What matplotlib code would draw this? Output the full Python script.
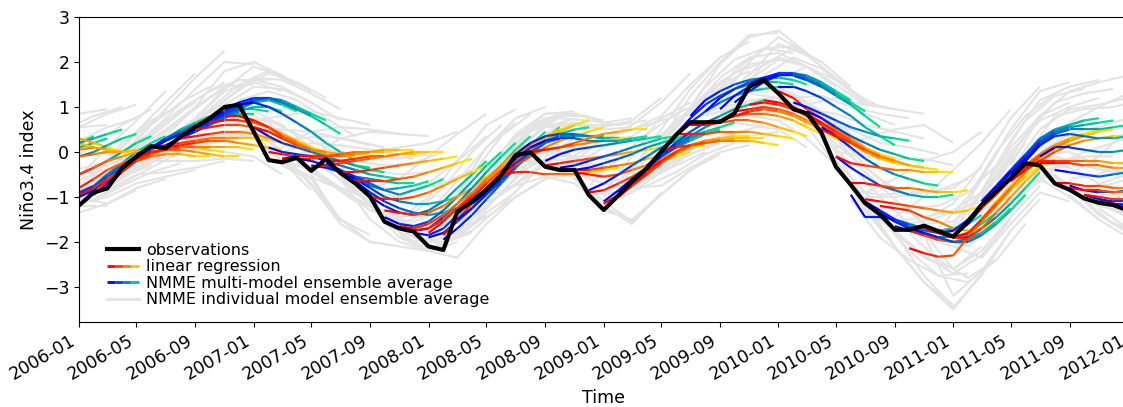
import matplotlib

matplotlib.use("Agg")
import matplotlib.dates as mdates  # noqa: E402
import matplotlib.pyplot as plt  # noqa: E402
import pandas as pd  # noqa: E402
from matplotlib.collections import LineCollection  # noqa: E402
from matplotlib.legend_handler import HandlerBase  # noqa: E402
from matplotlib.lines import Line2D  # noqa: E402

plt.rcParams["font.family"] = "DejaVu Sans"
plt.rcParams["font.size"] = 12.5

# observed Niño3.4 index, monthly from 2006-01
obs_start = "2006-01"
obs = [-1.19, -0.90, -0.81, -0.36, -0.10, 0.13, 0.08, 0.34, 0.56, 0.75, 1.00, 1.05,
       0.45, -0.18, -0.23, -0.13, -0.42, -0.16, -0.47, -0.70, -0.99, -1.55, -1.70, -1.77,
       -2.10, -2.18, -1.33, -1.10, -0.84, -0.51, -0.07, -0.01, -0.33, -0.40, -0.40, -0.96,
       -1.29, -0.96, -0.66, -0.36, 0.01, 0.38, 0.66, 0.66, 0.67, 0.86, 1.45, 1.60,
       1.30, 0.95, 0.86, 0.42, -0.33, -0.73, -1.14, -1.39, -1.73, -1.73, -1.64, -1.76,
       -1.88, -1.55, -1.18, -0.88, -0.59, -0.25, -0.30, -0.70, -0.84, -1.03, -1.13, -1.18,
       -1.30]

# one row per initial month (monthly from 2005-05), leads 0..8
fcst_first_init = "2005-05"
mme_fcst = [
    [0.35, 0.3, 0.3, 0.25, 0.25, 0.2, 0.2, 0.25, 0.3],
    [0.25, 0.2, 0.2, 0.15, 0.1, 0.1, 0.15, 0.2, 0.35],
    [0.1, 0.05, 0.0, 0.0, 0.0, 0.05, 0.1, 0.2, 0.3],
    [0.0, -0.05, -0.05, 0.0, 0.05, 0.2, 0.3, 0.4, 0.5],
    [-0.1, -0.2, -0.25, -0.2, -0.1, 0.0, 0.15, 0.3, 0.4],
    [-0.3, -0.45, -0.55, -0.5, -0.35, -0.2, 0.0, 0.2, 0.35],
    [-0.6, -0.8, -0.9, -0.75, -0.5, -0.25, 0.0, 0.2, 0.35],
    [-0.85, -0.95, -0.8, -0.55, -0.3, -0.1, 0.1, 0.25, 0.4],
    [-1.0, -0.85, -0.6, -0.35, -0.1, 0.1, 0.3, 0.45, 0.6],
    [-0.95, -0.7, -0.4, -0.15, 0.1, 0.3, 0.5, 0.65, 0.8],
    [-0.7, -0.4, -0.15, 0.05, 0.25, 0.45, 0.6, 0.75, 0.85],
    [-0.3, -0.1, 0.1, 0.3, 0.45, 0.6, 0.75, 0.85, 0.9],
    [-0.05, 0.1, 0.25, 0.4, 0.55, 0.7, 0.8, 0.85, 0.85],
    [0.1, 0.25, 0.4, 0.55, 0.7, 0.85, 0.95, 0.95, 0.9],
    [0.15, 0.3, 0.45, 0.6, 0.75, 0.9, 1.0, 1.0, 0.9],
    [0.35, 0.5, 0.65, 0.8, 0.95, 1.1, 1.15, 1.05, 0.9],
    [0.55, 0.7, 0.85, 1.0, 1.15, 1.2, 1.1, 0.95, 0.8],
    [0.75, 0.9, 1.05, 1.15, 1.2, 1.15, 1.0, 0.85, 0.7],
    [0.95, 1.1, 1.2, 1.2, 1.1, 0.95, 0.8, 0.6, 0.4],
    [1.05, 1.1, 1.0, 0.85, 0.65, 0.45, 0.2, 0.0, -0.2],
    [0.55, 0.35, 0.2, 0.1, 0.0, -0.1, -0.2, -0.3, -0.35],
    [0.1, 0.0, -0.05, -0.1, -0.15, -0.2, -0.3, -0.4, -0.45],
    [-0.15, -0.1, -0.1, -0.2, -0.3, -0.4, -0.5, -0.55, -0.6],
    [-0.15, -0.2, -0.3, -0.45, -0.55, -0.6, -0.65, -0.7, -0.7],
    [-0.3, -0.35, -0.45, -0.6, -0.75, -0.85, -0.8, -0.75, -0.65],
    [-0.25, -0.4, -0.55, -0.7, -0.85, -0.95, -0.85, -0.75, -0.6],
    [-0.45, -0.6, -0.8, -1.0, -1.1, -1.15, -1.15, -1.1, -1.0],
    [-0.65, -0.9, -1.1, -1.25, -1.35, -1.4, -1.35, -1.25, -1.1],
    [-1.0, -1.2, -1.35, -1.4, -1.3, -1.1, -0.8, -0.5, -0.2],
    [-1.45, -1.6, -1.65, -1.55, -1.3, -1.0, -0.65, -0.3, 0.0],
    [-1.7, -1.75, -1.7, -1.45, -1.15, -0.8, -0.45, -0.1, 0.2],
    [-1.8, -1.85, -1.7, -1.4, -1.05, -0.7, -0.3, 0.05, 0.35],
    [-1.9, -1.8, -1.55, -1.25, -0.9, -0.55, -0.2, 0.15, 0.45],
    [-1.95, -1.7, -1.4, -1.05, -0.7, -0.35, 0.0, 0.3, 0.55],
    [-1.5, -1.25, -0.95, -0.65, -0.35, -0.05, 0.2, 0.45, 0.6],
    [-1.15, -0.9, -0.6, -0.3, 0.0, 0.25, 0.4, 0.5, 0.55],
    [-0.8, -0.55, -0.25, 0.0, 0.2, 0.3, 0.35, 0.35, 0.35],
    [-0.45, -0.15, 0.1, 0.25, 0.35, 0.35, 0.35, 0.3, 0.3],
    [-0.05, 0.2, 0.35, 0.4, 0.4, 0.35, 0.3, 0.3, 0.3],
    [0.1, 0.25, 0.3, 0.3, 0.25, 0.25, 0.25, 0.3, 0.35],
    [-0.2, -0.05, 0.05, 0.1, 0.15, 0.2, 0.25, 0.3, 0.35],
    [-0.35, -0.3, -0.2, -0.1, 0.0, 0.1, 0.2, 0.3, 0.35],
    [-0.4, -0.35, -0.25, -0.15, -0.05, 0.1, 0.2, 0.3, 0.4],
    [-0.85, -0.7, -0.5, -0.3, -0.1, 0.1, 0.25, 0.35, 0.45],
    [-1.1, -0.85, -0.6, -0.35, -0.1, 0.1, 0.25, 0.4, 0.5],
    [-0.9, -0.6, -0.35, -0.1, 0.1, 0.3, 0.45, 0.55, 0.65],
    [-0.6, -0.35, -0.1, 0.15, 0.35, 0.55, 0.7, 0.8, 0.9],
    [-0.3, -0.05, 0.2, 0.45, 0.65, 0.8, 0.95, 1.05, 1.15],
    [0.05, 0.35, 0.65, 0.9, 1.1, 1.25, 1.35, 1.4, 1.45],
    [0.4, 0.75, 1.05, 1.25, 1.4, 1.5, 1.55, 1.55, 1.5],
    [0.8, 1.15, 1.35, 1.5, 1.6, 1.65, 1.65, 1.6, 1.5],
    [0.9, 1.2, 1.4, 1.55, 1.65, 1.7, 1.7, 1.6, 1.45],
    [0.95, 1.25, 1.45, 1.6, 1.7, 1.7, 1.6, 1.45, 1.3],
    [1.1, 1.35, 1.55, 1.7, 1.75, 1.7, 1.55, 1.35, 1.15],
    [1.5, 1.65, 1.75, 1.75, 1.65, 1.5, 1.3, 1.1, 0.9],
    [1.6, 1.7, 1.7, 1.6, 1.45, 1.25, 1.05, 0.8, 0.55],
    [1.45, 1.45, 1.35, 1.2, 1.0, 0.8, 0.55, 0.35, 0.15],
    [1.1, 1.0, 0.85, 0.7, 0.55, 0.45, 0.35, 0.3, 0.25],
    [0.9, 0.75, 0.55, 0.35, 0.2, 0.05, -0.05, -0.15, -0.2],
    [0.55, 0.35, 0.1, -0.15, -0.35, -0.5, -0.6, -0.7, -0.75],
    [-0.1, -0.35, -0.55, -0.75, -0.85, -0.95, -1.0, -1.0, -0.95],
    [-0.95, -1.45, -1.45, -1.5, -1.6, -1.7, -1.75, -1.7, -1.6],
    [-1.1, -1.3, -1.5, -1.65, -1.75, -1.8, -1.75, -1.6, -1.4],
    [-1.35, -1.55, -1.7, -1.8, -1.9, -1.9, -1.8, -1.6, -1.35],
    [-1.65, -1.75, -1.85, -1.95, -2.0, -1.95, -1.8, -1.55, -1.25],
    [-1.7, -1.8, -1.9, -2.0, -2.0, -1.85, -1.6, -1.3, -0.95],
    [-1.7, -1.8, -1.9, -1.9, -1.7, -1.45, -1.15, -0.8, -0.45],
    [-1.8, -1.75, -1.5, -1.2, -0.85, -0.5, -0.15, 0.15, 0.4],
    [-1.85, -1.6, -1.25, -0.9, -0.55, -0.2, 0.15, 0.4, 0.6],
    [-1.5, -1.15, -0.8, -0.45, -0.1, 0.25, 0.45, 0.6, 0.7],
    [-1.1, -0.75, -0.4, -0.05, 0.3, 0.5, 0.6, 0.7, 0.75],
    [-0.8, -0.45, -0.1, 0.25, 0.45, 0.55, 0.6, 0.65, 0.7],
    [-0.5, -0.15, 0.2, 0.4, 0.5, 0.5, 0.5, 0.55, 0.6],
    [-0.2, 0.15, 0.35, 0.4, 0.35, 0.3, 0.3, 0.35, 0.4],
    [-0.1, 0.1, 0.1, 0.05, 0.0, 0.0, 0.05, 0.1, 0.15],
    [-0.4, -0.45, -0.5, -0.55, -0.5, -0.45, -0.4, -0.3, -0.2],
    [-0.75, -0.85, -0.9, -0.9, -0.85, -0.8, -0.7, -0.6, -0.5],
    [-0.95, -1.05, -1.1, -1.1, -1.05, -0.95, -0.85, -0.7, -0.55],
    [-1.05, -1.15, -1.2, -1.15, -1.05, -0.9, -0.75, -0.6, -0.45],
    [-1.15, -1.2, -1.2, -1.1, -0.95, -0.8, -0.6, -0.45, -0.3],
]

lr_fcst = [
    [0.3, 0.3, 0.3, 0.3, 0.3, 0.3, 0.3, 0.3, 0.25],
    [0.25, 0.25, 0.25, 0.25, 0.25, 0.25, 0.2, 0.15, 0.1],
    [0.1, 0.15, 0.2, 0.25, 0.3, 0.3, 0.2, 0.1, 0.05],
    [0.0, 0.05, 0.1, 0.15, 0.25, 0.3, 0.2, 0.1, 0.0],
    [-0.1, -0.1, -0.05, 0.0, 0.05, 0.1, 0.05, 0.0, 0.0],
    [-0.3, -0.3, -0.25, -0.1, -0.05, 0.0, 0.0, 0.05, 0.05],
    [-0.6, -0.55, -0.5, -0.35, -0.2, -0.1, 0.0, 0.05, 0.1],
    [-0.85, -0.8, -0.6, -0.4, -0.25, -0.1, 0.0, 0.05, 0.1],
    [-0.95, -0.8, -0.6, -0.4, -0.2, -0.1, -0.05, -0.05, -0.1],
    [-0.95, -0.65, -0.4, -0.2, -0.1, -0.05, -0.05, -0.1, -0.1],
    [-0.75, -0.45, -0.2, -0.05, 0.05, 0.1, 0.1, 0.05, 0.0],
    [-0.3, -0.15, 0.0, 0.05, 0.05, 0.0, -0.05, -0.1, -0.1],
    [-0.15, 0.0, 0.05, 0.1, 0.1, 0.1, 0.1, 0.1, 0.05],
    [0.1, 0.15, 0.2, 0.25, 0.3, 0.3, 0.3, 0.3, 0.25],
    [0.1, 0.15, 0.2, 0.25, 0.25, 0.2, 0.15, 0.1, 0.05],
    [0.3, 0.35, 0.4, 0.45, 0.45, 0.4, 0.3, 0.2, 0.1],
    [0.5, 0.55, 0.6, 0.6, 0.55, 0.45, 0.3, 0.15, 0.05],
    [0.65, 0.7, 0.7, 0.65, 0.55, 0.4, 0.25, 0.1, 0.0],
    [0.8, 0.8, 0.7, 0.55, 0.35, 0.2, 0.05, -0.05, -0.1],
    [0.8, 0.7, 0.55, 0.35, 0.2, 0.05, -0.05, -0.1, -0.1],
    [0.55, 0.45, 0.3, 0.15, 0.05, 0.0, -0.05, -0.05, -0.05],
    [0.0, -0.05, -0.1, -0.1, -0.1, -0.1, -0.05, 0.0, 0.0],
    [-0.15, -0.15, -0.15, -0.1, -0.1, -0.05, 0.0, 0.0, 0.05],
    [-0.1, -0.1, -0.1, -0.05, 0.0, 0.0, 0.05, 0.05, 0.05],
    [-0.35, -0.3, -0.25, -0.2, -0.15, -0.1, -0.05, -0.05, 0.0],
    [-0.2, -0.2, -0.15, -0.1, -0.1, -0.05, 0.0, 0.0, 0.0],
    [-0.45, -0.45, -0.4, -0.35, -0.3, -0.25, -0.2, -0.15, -0.1],
    [-0.65, -0.65, -0.65, -0.6, -0.55, -0.45, -0.35, -0.25, -0.15],
    [-1.0, -1.05, -1.05, -1.0, -0.9, -0.75, -0.6, -0.45, -0.3],
    [-1.3, -1.35, -1.4, -1.35, -1.2, -1.0, -0.8, -0.55, -0.35],
    [-1.65, -1.7, -1.6, -1.4, -1.15, -0.9, -0.6, -0.35, -0.15],
    [-1.75, -1.7, -1.5, -1.25, -0.95, -0.65, -0.35, -0.1, 0.1],
    [-1.8, -1.55, -1.25, -0.95, -0.6, -0.3, 0.0, 0.2, 0.35],
    [-1.85, -1.5, -1.15, -0.8, -0.45, -0.15, 0.1, 0.3, 0.45],
    [-1.3, -1.0, -0.7, -0.4, -0.1, 0.15, 0.35, 0.5, 0.6],
    [-1.1, -0.8, -0.5, -0.2, 0.05, 0.25, 0.45, 0.6, 0.7],
    [-0.8, -0.55, -0.3, -0.1, 0.1, 0.25, 0.35, 0.45, 0.55],
    [-0.5, -0.45, -0.45, -0.5, -0.5, -0.5, -0.45, -0.4, -0.35],
    [-0.05, 0.0, 0.05, 0.1, 0.15, 0.2, 0.25, 0.3, 0.3],
    [0.0, 0.05, 0.1, 0.2, 0.3, 0.4, 0.45, 0.5, 0.5],
    [-0.3, -0.25, -0.2, -0.15, -0.1, -0.05, 0.0, 0.05, 0.1],
    [-0.4, -0.4, -0.4, -0.35, -0.3, -0.25, -0.15, -0.1, -0.05],
    [-0.45, -0.5, -0.55, -0.5, -0.4, -0.3, -0.2, -0.1, 0.0],
    [-0.9, -0.85, -0.7, -0.55, -0.35, -0.15, 0.0, 0.1, 0.15],
    [-1.15, -0.95, -0.75, -0.5, -0.25, -0.05, 0.1, 0.2, 0.25],
    [-1.0, -0.75, -0.5, -0.25, 0.0, 0.15, 0.25, 0.3, 0.35],
    [-0.7, -0.45, -0.2, 0.0, 0.15, 0.25, 0.3, 0.35, 0.35],
    [-0.4, -0.2, 0.0, 0.15, 0.2, 0.25, 0.3, 0.3, 0.3],
    [0.05, 0.1, 0.15, 0.2, 0.25, 0.25, 0.25, 0.2, 0.15],
    [0.4, 0.4, 0.4, 0.45, 0.45, 0.45, 0.4, 0.35, 0.3],
    [0.6, 0.6, 0.65, 0.7, 0.7, 0.65, 0.55, 0.45, 0.35],
    [0.65, 0.7, 0.8, 0.85, 0.85, 0.8, 0.7, 0.55, 0.4],
    [0.7, 0.8, 0.9, 0.95, 0.9, 0.8, 0.65, 0.5, 0.35],
    [0.9, 0.95, 1.0, 0.95, 0.85, 0.7, 0.5, 0.3, 0.15],
    [1.05, 1.1, 1.05, 0.95, 0.8, 0.6, 0.4, 0.2, 0.0],
    [1.15, 1.1, 1.0, 0.85, 0.65, 0.45, 0.25, 0.05, -0.1],
    [1.35, 1.2, 0.95, 0.75, 0.5, 0.3, 0.1, -0.05, -0.15],
    [1.0, 0.8, 0.6, 0.4, 0.2, 0.0, -0.15, -0.25, -0.3],
    [0.85, 0.65, 0.45, 0.25, 0.05, -0.1, -0.2, -0.3, -0.35],
    [0.5, 0.35, 0.2, 0.05, -0.1, -0.2, -0.3, -0.35, -0.4],
    [-0.1, -0.25, -0.3, -0.35, -0.4, -0.4, -0.45, -0.45, -0.45],
    [-0.7, -0.7, -0.75, -0.8, -0.8, -0.85, -0.9, -0.9, -0.85],
    [-1.05, -1.1, -1.15, -1.2, -1.25, -1.3, -1.35, -1.3, -1.2],
    [-1.2, -1.25, -1.3, -1.45, -1.55, -1.7, -1.75, -1.7, -1.55],
    [-1.7, -1.75, -1.85, -1.95, -2.0, -2.0, -1.85, -1.6, -1.3],
    [-2.14, -2.25, -2.33, -2.3, -1.9, -1.5, -1.1, -0.75, -0.45],
    [-1.7, -1.8, -1.9, -1.85, -1.55, -1.2, -0.85, -0.55, -0.3],
    [-1.8, -1.9, -1.95, -1.7, -1.35, -1.0, -0.65, -0.35, -0.15],
    [-1.9, -1.8, -1.5, -1.15, -0.8, -0.45, -0.15, 0.05, 0.2],
    [-1.55, -1.25, -0.95, -0.6, -0.3, -0.05, 0.15, 0.3, 0.4],
    [-1.2, -0.9, -0.6, -0.3, -0.05, 0.15, 0.3, 0.4, 0.5],
    [-0.9, -0.6, -0.35, -0.1, 0.1, 0.25, 0.35, 0.45, 0.5],
    [-0.65, -0.4, -0.2, 0.0, 0.15, 0.25, 0.3, 0.35, 0.35],
    [-0.35, -0.2, -0.2, -0.2, -0.2, -0.2, -0.25, -0.25, -0.3],
    [-0.25, -0.25, -0.25, -0.3, -0.3, -0.35, -0.35, -0.4, -0.45],
    [-0.7, -0.7, -0.75, -0.75, -0.8, -0.8, -0.8, -0.75, -0.7],
    [-0.8, -0.85, -0.85, -0.9, -0.9, -0.85, -0.8, -0.75, -0.7],
    [-0.95, -1.0, -1.05, -1.05, -1.0, -0.95, -0.85, -0.75, -0.65],
    [-1.1, -1.15, -1.15, -1.1, -1.0, -0.9, -0.8, -0.7, -0.6],
    [-1.2, -1.2, -1.15, -1.05, -0.95, -0.85, -0.75, -0.65, -0.55],
]

# individual models, values at leads 0, 2, 4, 6, 8.
# even set: initial month every 2 months from 2005-07, four models each
gray_first_init = "2005-07"
gray_fcst = [
    [[0.2, 0.3, 0.5, 0.85, 0.95], [0.0, -0.3, -0.7, -1.2, -1.2], [0.15, 0.2, 0.3, 0.55, 0.6], [0.05, -0.2, -0.4, -0.5, -0.4]],
    [[0.0, 0.1, 0.55, 0.85, 1.05], [-0.2, -0.6, -1.0, -1.15, -0.85], [-0.05, 0.0, 0.25, 0.55, 0.75], [-0.15, -0.4, -0.5, -0.3, 0.0]],
    [[-0.5, -0.55, 0.1, 0.7, 1.35], [-0.7, -1.35, -1.15, -0.8, -0.6], [-0.55, -0.75, -0.2, 0.4, 0.85], [-0.65, -1.05, -0.75, -0.35, -0.1]],
    [[-0.85, -0.25, 0.45, 1.1, 1.75], [-1.15, -1.0, -0.7, -0.55, -0.4], [-0.9, -0.45, 0.2, 0.7, 1.1], [-1.1, -0.8, -0.4, -0.1, 0.15]],
    [[-0.55, 0.3, 0.95, 1.65, 2.25], [-0.85, -0.5, -0.45, -0.35, -0.2], [-0.6, 0.1, 0.6, 1.15, 1.55], [-0.8, -0.35, 0.0, 0.2, 0.35]],
    [[0.15, 0.75, 1.4, 2.0, 1.95], [-0.2, -0.2, -0.2, -0.15, -0.2], [0.05, 0.5, 1.0, 1.45, 1.5], [-0.15, 0.0, 0.2, 0.35, 0.35]],
    [[0.35, 1.0, 1.8, 2.0, 1.7], [0.0, 0.05, 0.0, -0.1, -0.5], [0.25, 0.75, 1.35, 1.55, 1.35], [0.05, 0.25, 0.4, 0.5, 0.2]],
    [[0.75, 1.4, 1.9, 1.7, 1.35], [0.4, 0.4, 0.3, -0.2, -0.85], [0.65, 1.15, 1.6, 1.45, 1.1], [0.5, 0.6, 0.7, 0.45, 0.0]],
    [[1.15, 1.65, 1.6, 1.3, 0.95], [0.8, 0.6, 0.0, -0.75, -1.6], [1.05, 1.45, 1.4, 1.1, 0.7], [0.85, 0.9, 0.6, 0.1, -0.5]],
    [[0.7, 0.8, 0.9, 0.75, 0.6], [0.4, -0.2, -0.7, -1.5, -1.85], [0.6, 0.5, 0.45, 0.3, 0.15], [0.5, 0.0, -0.35, -0.8, -1.05]],
    [[0.1, 0.45, 0.55, 0.5, 0.4], [-0.3, -0.6, -1.5, -2.0, -2.1], [0.0, 0.2, 0.15, 0.05, -0.05], [-0.2, -0.4, -0.85, -1.2, -1.4]],
    [[-0.1, 0.3, 0.45, 0.4, 0.35], [-0.5, -1.6, -2.0, -2.1, -2.2], [-0.2, 0.0, -0.15, -0.15, -0.05], [-0.4, -0.8, -1.3, -1.45, -1.4]],
    [[-0.3, 0.0, 0.1, 0.2, 0.45], [-0.6, -1.5, -2.0, -2.2, -2.0], [-0.35, -0.4, -0.5, -0.45, -0.25], [-0.55, -1.15, -1.55, -1.7, -1.55]],
    [[-0.8, -0.6, -0.1, 0.4, 0.85], [-1.2, -1.9, -2.2, -1.9, -1.4], [-0.9, -1.0, -0.7, -0.2, 0.35], [-1.1, -1.65, -1.75, -1.35, -0.8]],
    [[-1.5, -1.0, -0.2, 0.6, 0.95], [-1.85, -2.15, -1.9, -1.35, -0.9], [-1.6, -1.35, -0.65, 0.1, 0.65], [-1.8, -1.95, -1.5, -0.9, -0.35]],
    [[-1.7, -0.9, 0.1, 0.75, 1.0], [-2.2, -2.35, -1.6, -1.0, -0.6], [-1.8, -1.25, -0.4, 0.35, 0.75], [-2.0, -1.8, -1.2, -0.6, 0.0]],
    [[-1.3, -0.45, 0.4, 0.85, 0.9], [-1.7, -1.45, -1.0, -0.6, -0.5], [-1.4, -0.7, 0.05, 0.55, 0.75], [-1.6, -1.2, -0.7, -0.2, 0.15]],
    [[-0.6, 0.3, 0.85, 0.85, 0.7], [-1.0, -0.75, -0.55, -0.7, -1.2], [-0.7, 0.05, 0.55, 0.6, 0.5], [-0.9, -0.5, -0.15, -0.2, -0.5]],
    [[0.15, 0.75, 0.85, 0.65, 0.75], [-0.2, -0.2, -0.6, -1.2, -1.6], [0.05, 0.6, 0.65, 0.5, 0.55], [-0.15, 0.1, -0.1, -0.5, -0.75]],
    [[-0.05, 0.5, 0.55, 0.7, 1.2], [-0.35, -0.5, -1.2, -1.6, -0.9], [-0.1, 0.3, 0.4, 0.5, 0.8], [-0.3, -0.25, -0.55, -0.7, -0.3]],
    [[-0.2, 0.3, 0.6, 1.1, 1.75], [-0.55, -1.1, -1.55, -0.95, -0.4], [-0.3, 0.1, 0.35, 0.75, 1.1], [-0.5, -0.7, -0.8, -0.35, 0.0]],
    [[-0.9, -0.1, 0.8, 1.5, 2.1], [-1.3, -1.5, -0.95, -0.4, -0.05], [-1.0, -0.35, 0.35, 0.9, 1.35], [-1.2, -0.9, -0.45, -0.05, 0.2]],
    [[-0.4, 0.5, 1.4, 2.1, 2.45], [-0.8, -0.75, -0.35, 0.0, 0.15], [-0.5, 0.2, 0.9, 1.5, 1.8], [-0.7, -0.4, 0.05, 0.35, 0.5]],
    [[0.25, 1.25, 2.0, 2.6, 2.65], [-0.1, 0.15, 0.3, 0.35, 0.45], [0.15, 0.95, 1.55, 1.95, 2.05], [-0.05, 0.4, 0.7, 0.85, 0.9]],
    [[1.0, 1.95, 2.55, 2.7, 2.2], [0.6, 0.7, 0.6, 0.5, 0.1], [0.9, 1.65, 2.1, 2.2, 1.9], [0.7, 1.0, 1.1, 1.05, 0.8]],
    [[1.15, 2.0, 2.55, 2.2, 1.6], [0.75, 0.8, 0.7, 0.3, -0.3], [1.05, 1.75, 2.1, 1.9, 1.45], [0.85, 1.15, 1.2, 1.0, 0.6]],
    [[1.7, 2.4, 2.15, 1.65, 1.15], [1.3, 1.2, 0.6, -0.3, -1.2], [1.6, 2.05, 1.9, 1.5, 1.05], [1.4, 1.45, 1.1, 0.5, -0.1]],
    [[1.6, 1.9, 1.6, 1.1, 0.95], [1.3, 0.85, -0.2, -1.2, -2.1], [1.5, 1.6, 1.3, 0.85, 0.6], [1.35, 1.05, 0.4, -0.3, -0.9]],
    [[1.05, 1.2, 1.05, 0.95, 0.85], [0.75, 0.0, -1.1, -2.1, -2.9], [0.95, 0.85, 0.6, 0.45, 0.3], [0.8, 0.3, -0.45, -1.05, -1.6]],
    [[0.1, 0.3, 0.5, 0.6, 0.2], [-0.25, -1.3, -2.1, -2.9, -3.4], [0.0, -0.1, -0.15, -0.15, -0.3], [-0.2, -0.9, -1.5, -1.9, -2.1]],
    [[-0.9, -0.6, -0.2, 0.0, 0.45], [-1.25, -2.1, -2.9, -3.5, -2.7], [-1.0, -1.0, -0.9, -0.8, -0.35], [-1.2, -1.8, -2.35, -2.6, -2.1]],
    [[-1.45, -1.0, -0.4, 0.2, 0.95], [-1.8, -2.75, -3.45, -2.75, -1.75], [-1.55, -1.45, -1.3, -0.9, -0.2], [-1.75, -2.3, -2.7, -2.3, -1.5]],
    [[-1.5, -1.15, -0.3, 0.75, 1.45], [-1.85, -3.2, -2.65, -1.75, -1.05], [-1.6, -1.55, -1.05, -0.1, 0.8], [-1.8, -2.6, -2.2, -1.45, -0.75]],
    [[-1.65, -0.6, 0.5, 1.35, 1.55], [-2.1, -2.35, -1.6, -0.9, -1.1], [-1.75, -0.9, 0.1, 0.8, 1.1], [-2.0, -1.8, -1.1, -0.4, -0.3]],
    [[-0.9, 0.25, 1.15, 1.45, 1.6], [-1.3, -1.0, -0.6, -1.0, -1.5], [-1.0, 0.0, 0.7, 1.0, 1.2], [-1.2, -0.7, -0.2, -0.2, -0.4]],
    [[-0.3, 0.8, 1.35, 1.55, 1.7], [-0.7, -0.35, -0.8, -1.4, -1.8], [-0.4, 0.5, 0.95, 1.05, 1.2], [-0.6, -0.05, 0.0, -0.3, -0.5]],
    [[0.1, 0.65, 1.0, 1.3, 1.5], [-0.3, -0.8, -1.4, -1.75, -1.9], [0.0, 0.4, 0.55, 0.75, 0.9], [-0.2, -0.35, -0.7, -0.85, -0.9]],
    [[-0.5, -0.1, 0.5, 0.8, 1.0], [-0.95, -1.5, -1.9, -2.0, -1.9], [-0.6, -0.5, -0.2, 0.1, 0.3], [-0.85, -1.2, -1.35, -1.3, -1.1]],
    [[-0.8, -0.6, -0.2, 0.2, 0.4], [-1.25, -1.7, -2.0, -2.0, -1.8], [-0.95, -0.95, -0.8, -0.5, -0.3], [-1.15, -1.45, -1.5, -1.3, -1.0]],
]

# odd set: initial month every 2 months from 2005-08, two models each
gray_odd_first_init = "2005-08"
gray_fcst_odd = [
    [[0.1, 0.25, 0.5, 0.8, 1.0], [-0.1, -0.35, -0.45, -0.3, -0.1]],
    [[-0.2, -0.25, 0.15, 0.6, 0.95], [-0.4, -0.85, -0.8, -0.55, -0.3]],
    [[-0.75, -0.5, 0.2, 0.7, 1.05], [-0.95, -1.1, -0.75, -0.45, -0.25]],
    [[-0.85, -0.1, 0.6, 1.1, 1.45], [-1.05, -0.7, -0.35, 0.0, 0.2]],
    [[-0.2, 0.4, 0.95, 1.35, 1.6], [-0.4, -0.2, 0.0, 0.2, 0.3]],
    [[0.2, 0.7, 1.2, 1.6, 1.6], [0.0, 0.1, 0.25, 0.4, 0.3]],
    [[0.45, 0.95, 1.5, 1.8, 1.5], [0.25, 0.35, 0.45, 0.5, 0.2]],
    [[0.85, 1.4, 1.75, 1.55, 1.2], [0.65, 0.75, 0.7, 0.4, 0.1]],
    [[1.15, 1.35, 1.15, 0.75, 0.35], [0.95, 0.65, 0.15, -0.4, -0.8]],
    [[0.2, 0.3, 0.35, 0.25, 0.1], [0.0, -0.4, -0.7, -0.9, -1.1]],
    [[-0.05, 0.05, -0.05, -0.1, -0.15], [-0.25, -0.65, -1.1, -1.3, -1.35]],
    [[-0.15, -0.2, -0.3, -0.25, 0.0], [-0.35, -0.9, -1.45, -1.55, -1.3]],
    [[-0.55, -0.8, -0.85, -0.7, -0.4], [-0.75, -1.45, -1.9, -2.0, -1.8]],
    [[-1.35, -1.35, -0.8, 0.0, 0.6], [-1.55, -2.0, -1.8, -1.3, -0.65]],
    [[-1.7, -1.4, -0.5, 0.35, 0.85], [-1.9, -2.05, -1.6, -0.9, -0.2]],
    [[-1.85, -1.1, -0.15, 0.55, 0.85], [-2.05, -1.75, -1.2, -0.55, 0.05]],
    [[-1.05, -0.25, 0.5, 0.8, 0.8], [-1.25, -0.95, -0.5, -0.05, 0.2]],
    [[-0.35, 0.45, 0.75, 0.7, 0.6], [-0.55, -0.25, -0.1, -0.1, -0.2]],
    [[0.2, 0.6, 0.6, 0.6, 0.7], [0.0, -0.05, -0.25, -0.4, -0.3]],
    [[-0.25, 0.1, 0.4, 0.6, 0.8], [-0.45, -0.55, -0.5, -0.3, -0.1]],
    [[-0.75, -0.15, 0.4, 0.85, 1.15], [-0.95, -0.9, -0.6, -0.3, 0.0]],
    [[-0.8, 0.05, 0.7, 1.2, 1.6], [-1.0, -0.75, -0.45, -0.05, 0.2]],
    [[-0.2, 0.6, 1.3, 1.75, 2.0], [-0.4, -0.2, 0.1, 0.4, 0.6]],
    [[0.5, 1.45, 2.05, 2.3, 2.2], [0.3, 0.65, 0.85, 0.95, 0.9]],
    [[1.0, 1.8, 2.3, 2.35, 2.0], [0.8, 1.0, 1.05, 1.05, 0.85]],
    [[1.2, 1.95, 2.3, 2.0, 1.45], [1.0, 1.15, 1.1, 0.9, 0.5]],
    [[1.7, 2.1, 1.85, 1.35, 1.0], [1.5, 1.3, 0.9, 0.4, -0.2]],
    [[1.2, 1.25, 1.0, 0.85, 0.75], [1.0, 0.45, -0.1, -0.6, -1.0]],
    [[0.65, 0.5, 0.2, 0.1, -0.05], [0.45, -0.3, -1.0, -1.6, -2.0]],
    [[-0.85, -0.95, -0.9, -0.85, -0.6], [-1.05, -1.9, -2.4, -2.75, -2.7]],
    [[-1.25, -1.25, -1.2, -0.9, -0.3], [-1.45, -2.2, -2.75, -2.9, -2.4]],
    [[-1.6, -1.45, -1.2, -0.6, 0.2], [-1.8, -2.4, -2.8, -2.4, -1.6]],
    [[-1.7, -1.0, 0.0, 0.8, 1.3], [-1.9, -2.1, -1.6, -0.9, -0.4]],
    [[-1.4, -0.3, 0.7, 1.25, 1.4], [-1.6, -1.3, -0.8, -0.35, -0.1]],
    [[-0.7, 0.4, 1.1, 1.3, 1.4], [-0.9, -0.6, -0.2, -0.1, -0.1]],
    [[-0.1, 0.8, 0.95, 1.0, 1.15], [-0.3, -0.1, -0.3, -0.45, -0.4]],
    [[-0.3, 0.0, 0.2, 0.45, 0.7], [-0.5, -1.0, -1.2, -1.3, -1.2]],
    [[-0.85, -0.6, -0.4, -0.1, 0.2], [-1.05, -1.6, -1.7, -1.6, -1.4]],
    [[-1.05, -0.75, -0.3, 0.1, 0.4], [-1.25, -1.65, -1.6, -1.3, -0.95]],
]

N_LEAD = 9
GRAY = "#e3e3e3"


def months(start, n, step=1):
    return mdates.date2num(pd.date_range(start, periods=n, freq=f"{step}MS"))


class GradientHandle:
    def __init__(self, cmap):
        self.cmap = plt.get_cmap(cmap)


class HandlerGradient(HandlerBase):
    def create_artists(self, legend, orig_handle, xdescent, ydescent,
                       width, height, fontsize, trans):
        n = 4
        y = height / 2 - ydescent
        step = width / n
        segs = [[(-xdescent + j * step, y), (-xdescent + (j + 1) * step, y)] for j in range(n)]
        cols = [orig_handle.cmap(j / n) for j in range(n)]
        return [LineCollection(segs, colors=cols, linewidths=2.0, transform=trans)]


def gray_polylines(first_init, table):
    out = []
    inits = pd.date_range(first_init, periods=len(table), freq="2MS")
    for d, models in zip(inits, table):
        xs = months(d, 5, step=2)
        for vals in models:
            out.append(list(zip(xs, vals)))
    return out


fig = plt.figure(figsize=(11.23, 4.07), dpi=100)
ax = fig.add_axes([79 / 1123, 85 / 407, 1049 / 1123, 305 / 407])

# individual model ensemble means (grey spaghetti)
gray_lines = gray_polylines(gray_first_init, gray_fcst) + gray_polylines(gray_odd_first_init, gray_fcst_odd)
ax.add_collection(LineCollection(gray_lines, colors=GRAY, linewidths=1.5, zorder=1))

# MME and regression forecasts, coloured by lead time
autumn = plt.get_cmap("autumn")
winter = plt.get_cmap("winter")
segs, cols = [], []
init_dates = pd.date_range(fcst_first_init, periods=len(mme_fcst), freq="MS")
for d, mme, lr in zip(init_dates, mme_fcst, lr_fcst):
    xs = months(d, N_LEAD)
    for vals, cmap in ((mme, winter), (lr, autumn)):
        for k in range(N_LEAD - 1):
            segs.append([(xs[k], vals[k]), (xs[k + 1], vals[k + 1])])
            cols.append(cmap(k / (N_LEAD - 1)))
ax.add_collection(LineCollection(segs, colors=cols, linewidths=1.6, zorder=2))

ax.plot(months(obs_start, len(obs)), obs, color="black", lw=3, zorder=3)

ax.set_xlim(mdates.date2num(pd.Timestamp("2006-01-01")), mdates.date2num(pd.Timestamp("2012-01-01")))
ax.set_ylim(-3.78, 3)
ax.set_yticks([-3, -2, -1, 0, 1, 2, 3])
ax.xaxis.set_major_locator(mdates.MonthLocator(bymonth=[1, 5, 9]))
ax.xaxis.set_major_formatter(mdates.DateFormatter("%Y-%m"))
plt.setp(ax.get_xticklabels(), rotation=30, ha="right")
ax.set_xlabel("Time")
ax.set_ylabel("Niño3.4 index")

handles = [Line2D([], [], color="black", lw=3), GradientHandle("autumn"),
           GradientHandle("winter"), Line2D([], [], color=GRAY, lw=2)]
labels = ["observations", "linear regression", "NMME multi-model ensemble average",
          "NMME individual model ensemble average"]
ax.legend(handles, labels, handler_map={GradientHandle: HandlerGradient()},
          loc="lower left", bbox_to_anchor=(0.021, 0.027), borderaxespad=0,
          frameon=False, fontsize=11.5, labelspacing=0.1, handlelength=2.0,
          handletextpad=0.4)

fig.savefig("out.png", dpi=100)
